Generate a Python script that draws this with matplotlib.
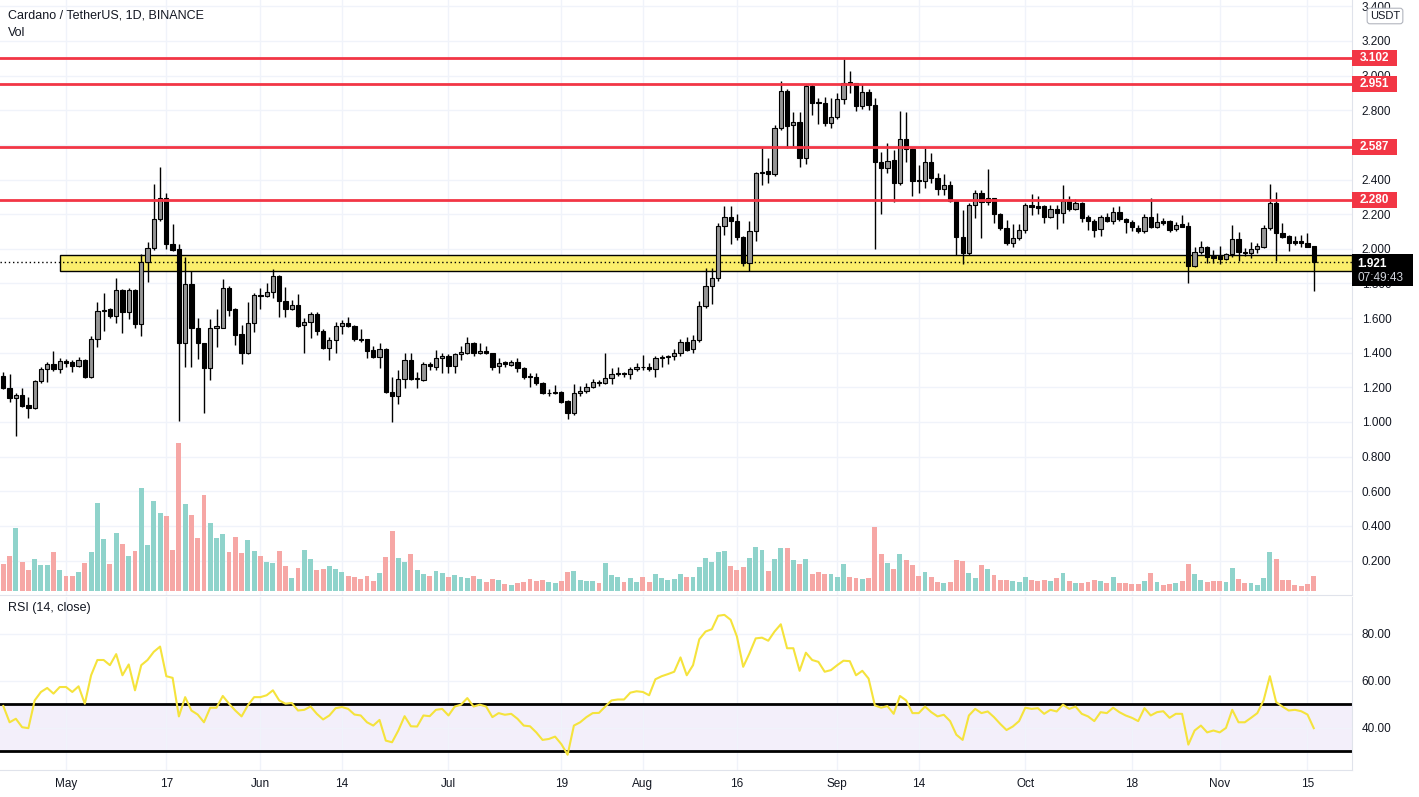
import numpy as np
import pandas as pd
import matplotlib.pyplot as plt
import matplotlib.transforms as mtransforms
from matplotlib.patches import Rectangle

plt.rcParams['font.family'] = ['Liberation Sans', 'DejaVu Sans']

# daily ADA/USDT candles, 21 Apr 2021 - 16 Nov 2021
dates = pd.date_range('2021-04-21', periods=210, freq='D')

opens = [
    1.266, 1.198, 1.140, 1.155, 1.098, 1.083, 1.237, 1.304, 1.335, 1.304,
    1.350, 1.346, 1.323, 1.358, 1.262, 1.477, 1.643, 1.651, 1.614, 1.762,
    1.637, 1.762, 1.564, 1.922, 2.003, 2.170, 2.292, 2.026, 1.997, 1.458,
    1.795, 1.545, 1.458, 1.310, 1.545, 1.545, 1.771, 1.652, 1.508, 1.396,
    1.569, 1.735, 1.729, 1.748, 1.843, 1.700, 1.650, 1.675, 1.560, 1.577,
    1.623, 1.527, 1.429, 1.473, 1.554, 1.569, 1.554, 1.477, 1.477, 1.415,
    1.377, 1.419, 1.171, 1.152, 1.248, 1.358, 1.248, 1.242, 1.332, 1.320,
    1.369, 1.381, 1.325, 1.390, 1.400, 1.454, 1.396, 1.410, 1.396, 1.323,
    1.344, 1.330, 1.344, 1.310, 1.262, 1.257, 1.223, 1.165, 1.168, 1.175,
    1.120, 1.050, 1.165, 1.180, 1.204, 1.229, 1.227, 1.252, 1.275, 1.280,
    1.278, 1.304, 1.319, 1.315, 1.304, 1.371, 1.373, 1.380, 1.396, 1.464,
    1.420, 1.473, 1.672, 1.787, 1.830, 2.132, 2.182, 2.160, 2.066, 1.916,
    2.103, 2.436, 2.447, 2.430, 2.696, 2.911, 2.713, 2.730, 2.522, 2.942,
    2.846, 2.840, 2.728, 2.759, 2.863, 2.961, 2.956, 2.825, 2.903, 2.830,
    2.503, 2.465, 2.513, 2.378, 2.634, 2.574, 2.397, 2.390, 2.499, 2.410,
    2.343, 2.366, 2.278, 2.070, 1.977, 2.251, 2.320, 2.268, 2.291, 2.199,
    2.122, 2.031, 2.064, 2.108, 2.251, 2.245, 2.245, 2.185, 2.230, 2.205,
    2.278, 2.230, 2.262, 2.185, 2.162, 2.112, 2.185, 2.162, 2.210, 2.172,
    2.157, 2.118, 2.105, 2.182, 2.128, 2.162, 2.160, 2.112, 2.143, 2.132,
    1.903, 1.980, 2.008, 1.958, 1.958, 1.941, 1.968, 2.055, 1.981, 1.974,
    1.997, 2.012, 2.118, 2.263, 2.093, 2.074, 2.047, 2.045, 2.035, 2.016,
]
highs = [
    1.291, 1.275, 1.165, 1.194, 1.142, 1.245, 1.320, 1.345, 1.410, 1.370,
    1.365, 1.358, 1.375, 1.365, 1.497, 1.695, 1.743, 1.660, 1.834, 1.770,
    1.775, 1.770, 1.968, 2.041, 2.374, 2.470, 2.320, 2.143, 2.026, 1.955,
    1.870, 1.600, 1.458, 1.593, 1.650, 1.825, 1.785, 1.660, 1.560, 1.694,
    1.743, 1.771, 1.800, 1.881, 1.850, 1.777, 1.704, 1.739, 1.598, 1.637,
    1.633, 1.535, 1.493, 1.579, 1.589, 1.608, 1.560, 1.535, 1.480, 1.438,
    1.454, 1.425, 1.261, 1.303, 1.396, 1.396, 1.290, 1.348, 1.348, 1.415,
    1.400, 1.390, 1.400, 1.438, 1.488, 1.460, 1.454, 1.438, 1.400, 1.367,
    1.352, 1.355, 1.367, 1.315, 1.285, 1.285, 1.228, 1.188, 1.213, 1.180,
    1.125, 1.219, 1.207, 1.223, 1.246, 1.240, 1.396, 1.310, 1.319, 1.290,
    1.319, 1.338, 1.386, 1.338, 1.381, 1.386, 1.386, 1.420, 1.479, 1.493,
    1.502, 1.699, 1.887, 1.891, 2.150, 2.247, 2.247, 2.199, 2.075, 2.160,
    2.445, 2.580, 2.522, 2.715, 2.969, 2.925, 2.788, 2.792, 2.950, 2.950,
    2.869, 2.875, 2.873, 2.898, 3.094, 3.027, 2.960, 2.950, 2.921, 2.869,
    2.557, 2.613, 2.570, 2.796, 2.792, 2.580, 2.484, 2.580, 2.551, 2.435,
    2.432, 2.390, 2.280, 2.224, 2.262, 2.339, 2.339, 2.459, 2.295, 2.205,
    2.166, 2.141, 2.141, 2.262, 2.316, 2.305, 2.250, 2.250, 2.250, 2.368,
    2.306, 2.290, 2.270, 2.195, 2.170, 2.195, 2.205, 2.239, 2.247, 2.180,
    2.165, 2.137, 2.201, 2.291, 2.209, 2.180, 2.165, 2.157, 2.195, 2.157,
    2.012, 2.045, 2.018, 1.993, 2.016, 1.974, 2.137, 2.095, 2.003, 2.041,
    2.032, 2.137, 2.374, 2.330, 2.147, 2.080, 2.074, 2.078, 2.093, 2.016,
]
lows = [
    1.190, 1.114, 0.919, 1.085, 1.021, 1.075, 1.223, 1.233, 1.295, 1.280,
    1.320, 1.290, 1.315, 1.255, 1.255, 1.435, 1.527, 1.600, 1.574, 1.516,
    1.595, 1.545, 1.498, 1.810, 1.995, 2.160, 2.000, 1.990, 1.008, 1.320,
    1.320, 1.365, 1.050, 1.245, 1.435, 1.540, 1.610, 1.444, 1.334, 1.390,
    1.520, 1.655, 1.720, 1.715, 1.608, 1.608, 1.645, 1.550, 1.400, 1.483,
    1.505, 1.420, 1.358, 1.400, 1.508, 1.550, 1.470, 1.463, 1.371, 1.370,
    1.310, 1.165, 1.001, 1.102, 1.198, 1.240, 1.198, 1.236, 1.300, 1.300,
    1.280, 1.280, 1.285, 1.358, 1.390, 1.380, 1.390, 1.392, 1.300, 1.285,
    1.320, 1.322, 1.290, 1.250, 1.200, 1.215, 1.160, 1.150, 1.160, 1.110,
    1.019, 1.040, 1.150, 1.170, 1.195, 1.210, 1.222, 1.217, 1.265, 1.257,
    1.246, 1.295, 1.300, 1.296, 1.261, 1.320, 1.334, 1.360, 1.380, 1.410,
    1.397, 1.460, 1.660, 1.680, 1.815, 2.080, 2.030, 2.051, 1.900, 1.874,
    2.047, 2.368, 2.378, 2.420, 2.686, 2.584, 2.594, 2.470, 2.490, 2.773,
    2.719, 2.709, 2.700, 2.750, 2.836, 2.898, 2.796, 2.810, 2.800, 1.999,
    2.199, 2.440, 2.268, 2.370, 2.499, 2.306, 2.320, 2.353, 2.378, 2.310,
    2.310, 2.270, 1.964, 1.912, 1.964, 2.176, 2.060, 2.250, 2.147, 2.110,
    2.020, 2.012, 2.050, 2.089, 2.195, 2.200, 2.147, 2.175, 2.112, 2.151,
    2.220, 2.225, 2.156, 2.108, 2.070, 2.074, 2.155, 2.143, 2.160, 2.089,
    2.103, 2.093, 2.089, 2.120, 2.120, 2.140, 2.095, 2.105, 2.125, 1.804,
    1.895, 1.970, 1.920, 1.916, 1.912, 1.935, 1.951, 1.931, 1.958, 1.945,
    1.974, 2.006, 2.110, 1.931, 2.060, 1.987, 2.022, 2.012, 2.008, 1.758,
]
closes = [
    1.198, 1.140, 1.155, 1.094, 1.083, 1.237, 1.304, 1.335, 1.304, 1.350,
    1.340, 1.323, 1.358, 1.262, 1.477, 1.643, 1.647, 1.614, 1.762, 1.637,
    1.762, 1.564, 1.922, 2.003, 2.170, 2.292, 2.026, 1.993, 1.458, 1.795,
    1.545, 1.458, 1.310, 1.545, 1.552, 1.771, 1.646, 1.502, 1.396, 1.569,
    1.733, 1.730, 1.748, 1.843, 1.700, 1.650, 1.675, 1.556, 1.577, 1.623,
    1.527, 1.429, 1.473, 1.554, 1.569, 1.554, 1.477, 1.473, 1.411, 1.377,
    1.419, 1.171, 1.152, 1.248, 1.358, 1.248, 1.250, 1.332, 1.326, 1.367,
    1.381, 1.325, 1.390, 1.402, 1.454, 1.396, 1.410, 1.396, 1.319, 1.342,
    1.333, 1.344, 1.310, 1.257, 1.261, 1.223, 1.165, 1.168, 1.175, 1.117,
    1.050, 1.165, 1.180, 1.204, 1.229, 1.226, 1.252, 1.275, 1.280, 1.278,
    1.304, 1.319, 1.315, 1.304, 1.371, 1.373, 1.380, 1.396, 1.464, 1.416,
    1.473, 1.672, 1.787, 1.830, 2.132, 2.182, 2.160, 2.066, 1.916, 2.103,
    2.436, 2.445, 2.430, 2.696, 2.911, 2.711, 2.732, 2.522, 2.942, 2.840,
    2.840, 2.725, 2.759, 2.863, 2.956, 2.952, 2.825, 2.903, 2.830, 2.503,
    2.465, 2.509, 2.378, 2.634, 2.574, 2.393, 2.390, 2.499, 2.410, 2.343,
    2.366, 2.278, 2.070, 1.977, 2.251, 2.320, 2.268, 2.291, 2.199, 2.122,
    2.031, 2.064, 2.108, 2.251, 2.239, 2.235, 2.185, 2.230, 2.205, 2.278,
    2.230, 2.262, 2.179, 2.162, 2.108, 2.185, 2.162, 2.210, 2.170, 2.153,
    2.124, 2.103, 2.182, 2.128, 2.153, 2.151, 2.109, 2.137, 2.128, 1.903,
    1.980, 2.008, 1.951, 1.949, 1.941, 1.968, 2.055, 1.980, 1.974, 1.997,
    2.016, 2.118, 2.263, 2.089, 2.066, 2.035, 2.035, 2.032, 2.012, 1.921,
]
# volume, millions of ADA (approx)
volume = [
    81, 105, 188, 88, 63, 96, 78, 78, 117, 63,
    45, 45, 57, 85, 117, 264, 156, 81, 174, 141,
    105, 120, 309, 138, 270, 234, 225, 123, 444, 261,
    228, 159, 288, 204, 159, 171, 117, 162, 114, 153,
    120, 105, 88, 84, 120, 75, 39, 69, 123, 96,
    63, 66, 75, 66, 57, 45, 42, 36, 45, 30,
    54, 102, 180, 99, 87, 111, 63, 51, 45, 60,
    54, 42, 48, 42, 39, 45, 36, 27, 36, 33,
    21, 18, 24, 27, 36, 30, 33, 27, 24, 30,
    57, 60, 33, 30, 30, 24, 84, 48, 42, 27,
    39, 27, 42, 27, 51, 39, 33, 36, 51, 42,
    42, 72, 99, 87, 117, 120, 75, 63, 72, 99,
    132, 123, 60, 96, 129, 129, 93, 81, 96, 51,
    57, 51, 51, 42, 81, 42, 39, 36, 39, 192,
    111, 84, 66, 111, 93, 78, 45, 57, 42, 27,
    24, 27, 93, 90, 54, 39, 78, 66, 48, 33,
    33, 30, 27, 42, 33, 30, 33, 30, 39, 54,
    30, 24, 24, 27, 33, 30, 24, 42, 24, 24,
    21, 21, 30, 54, 27, 18, 21, 24, 30, 81,
    51, 33, 27, 30, 30, 27, 69, 36, 24, 24,
    18, 39, 117, 96, 33, 33, 18, 15, 21, 45,
]
rsi = [
    49.3, 42.4, 43.9, 40.3, 39.9, 51.7, 55.3, 57.0, 54.6, 57.4,
    57.4, 55.3, 57.7, 50.3, 62.4, 68.9, 68.9, 66.7, 71.4, 62.4,
    67.0, 56.0, 66.7, 68.9, 72.4, 74.6, 62.0, 61.3, 44.9, 53.1,
    47.4, 45.7, 42.4, 48.6, 48.6, 53.6, 50.3, 47.4, 44.9, 49.6,
    53.1, 53.1, 53.9, 56.0, 51.7, 50.3, 50.6, 47.4, 47.7, 49.1,
    46.0, 43.6, 45.3, 48.4, 48.9, 48.1, 45.7, 45.3, 42.4, 41.0,
    43.4, 34.6, 33.9, 38.9, 45.0, 40.7, 40.6, 45.3, 45.0, 47.7,
    48.1, 45.3, 49.1, 49.9, 52.7, 49.1, 49.9, 49.1, 44.6, 46.3,
    45.6, 46.0, 43.9, 41.0, 40.7, 38.1, 34.9, 35.3, 36.3, 33.1,
    28.6, 41.0, 42.4, 44.6, 46.3, 46.4, 49.1, 51.7, 52.1, 52.1,
    55.0, 55.6, 55.3, 53.9, 60.7, 62.0, 62.9, 63.9, 70.0, 62.4,
    66.7, 77.7, 81.0, 82.0, 87.7, 88.1, 86.0, 78.9, 66.0, 71.7,
    78.1, 78.4, 77.1, 81.0, 84.1, 73.9, 73.9, 64.3, 72.0, 68.9,
    68.1, 63.9, 64.6, 66.7, 68.6, 68.4, 62.4, 64.3, 61.0, 49.6,
    48.6, 49.3, 46.0, 53.6, 51.7, 46.3, 46.3, 49.1, 46.7, 44.9,
    45.6, 42.9, 37.1, 34.9, 45.3, 48.1, 46.3, 47.0, 44.6, 41.7,
    39.1, 40.6, 42.9, 48.6, 48.1, 48.4, 46.0, 47.7, 47.0, 49.9,
    48.1, 49.1, 46.0, 44.9, 42.9, 46.7, 46.3, 48.6, 46.7, 45.3,
    44.3, 42.9, 48.4, 45.3, 46.7, 47.1, 44.3, 46.0, 46.0, 32.9,
    38.9, 41.0, 38.1, 38.9, 38.1, 40.0, 47.7, 42.4, 42.4, 44.3,
    46.3, 51.7, 62.0, 51.0, 49.1, 47.4, 47.7, 47.1, 45.7, 39.9,
]

levels = [3.102, 2.951, 2.587, 2.280]
zone_low, zone_high = 1.870, 1.962
zone_start = '2021-04-30'
tick_dates = ['2021-05-01', '2021-05-17', '2021-06-01', '2021-06-14', '2021-07-01',
              '2021-07-19', '2021-08-01', '2021-08-16', '2021-09-01', '2021-09-14',
              '2021-10-01', '2021-10-18', '2021-11-01', '2021-11-15']
tick_labels = ['May', '17', 'Jun', '14', 'Jul', '19', 'Aug', '16', 'Sep', '14',
               'Oct', '18', 'Nov', '15']
countdown = '07:49:43'

W, H = 1419, 797
TXT = '#131722'
GRID = '#f0f3fa'
BORDER = '#e0e3eb'
RED = '#f23645'

fig = plt.figure(figsize=(W / 100, H / 100), dpi=100)
ax = fig.add_axes([0, 1 - 595 / H, 1352 / W, 595 / H])
ax_rsi = fig.add_axes([0, 1 - 770 / H, 1352 / W, 173 / H])

x = np.arange(len(dates))
o = np.array(opens)
c = np.array(closes)
hi = np.array(highs)
lo = np.array(lows)
up = c >= o
tick_pos = [dates.get_loc(pd.Timestamp(d)) for d in tick_dates]

xmin, xmax = -0.53, 215.1
ymin, ymax = 0.001, 3.4365
ppx = (ymax - ymin) / 595  # price per pixel

# grid
ax.set_xlim(xmin, xmax)
ax.set_ylim(ymin, ymax)
ax.set_xticks(tick_pos)
ax.set_yticks(np.arange(0.2, 3.41, 0.2))
ax.grid(True, color=GRID, lw=1)
ax.set_axisbelow(True)

# support zone + last price line
zx = dates.get_loc(pd.Timestamp(zone_start))
ax.add_patch(Rectangle((zx, zone_low), xmax - zx, zone_high - zone_low,
                       fc='#fbee6c', ec='black', lw=1, zorder=2))
ax.axhline(c[-1], color='black', lw=1, ls=(0, (1, 2)), zorder=2.5)

for lv in levels:
    ax.axhline(lv, color=RED, lw=2, zorder=5)

# candles
ax.vlines(x, lo, hi, color='black', lw=1, zorder=3)
body = np.maximum(np.abs(c - o), 0.004)
ax.bar(x, body, bottom=np.minimum(o, c), width=0.68,
       color=np.where(up, '#969696', '#000000'), edgecolor='black', lw=0.8, zorder=4)

# volume overlay
axv = ax.twinx()
vmax = max(volume)
s = 148 / vmax
axv.bar(x, volume, width=0.78, color=np.where(up, '#8fd3cb', '#f6a7a5'))
axv.set_ylim(-4 / s, 591 / s)
axv.set_xlim(xmin, xmax)
axv.axis('off')

# price axis
ax.yaxis.tick_right()
ax.yaxis.set_major_formatter(plt.FuncFormatter(lambda v, p: f'{v:.3f}'))
ax.tick_params(axis='y', length=0, pad=7, labelsize=8.5, labelcolor=TXT)
ax.tick_params(axis='x', length=0, labelbottom=False)
for sp in ['top', 'left']:
    ax.spines[sp].set_visible(False)
ax.spines['right'].set_color(BORDER)
ax.spines['bottom'].set_color(BORDER)

trans = mtransforms.blended_transform_factory(ax.transAxes, ax.transData)
bw = 45 / 1352
for lv in levels:
    ax.add_patch(Rectangle((1.0, lv - 8 * ppx), bw, 16 * ppx, transform=trans,
                           fc=RED, ec='none', clip_on=False, zorder=6))
    ax.text(1.0 + bw / 2, lv, f'{lv:.3f}', transform=trans, ha='center', va='center',
            color='white', fontsize=8.5, fontweight='bold', clip_on=False, zorder=7)

ax.add_patch(Rectangle((1.0, c[-1] - 23.5 * ppx), 61 / 1352, 32 * ppx, transform=trans,
                       fc='black', ec='none', clip_on=False, zorder=6))
ax.text(1.0 + 5 / 1352, c[-1] - 1.5 * ppx, f'{c[-1]:.3f}', transform=trans,
        ha='left', va='center', color='white', fontsize=8.5, fontweight='bold',
        clip_on=False, zorder=7)
ax.text(1.0 + 5 / 1352, c[-1] - 15.5 * ppx, countdown, transform=trans,
        ha='left', va='center', color='#d1d4dc', fontsize=8.5, clip_on=False, zorder=7)

# RSI pane
ax_rsi.set_xlim(xmin, xmax)
ax_rsi.set_ylim(22.1, 95.7)
ax_rsi.axhspan(30, 50, color='#f3effa', zorder=0.5)
ax_rsi.set_xticks(tick_pos)
ax_rsi.set_xticklabels(tick_labels)
ax_rsi.set_yticks([40, 60, 80])
ax_rsi.grid(True, color=GRID, lw=1)
ax_rsi.set_axisbelow(True)
ax_rsi.axhline(50, color='black', lw=2, zorder=2)
ax_rsi.axhline(30, color='black', lw=2, zorder=2)
ax_rsi.plot(x, rsi, color='#f5e33c', lw=1.5, zorder=3)
ax_rsi.yaxis.tick_right()
ax_rsi.yaxis.set_major_formatter(plt.FuncFormatter(lambda v, p: f'{v:.2f}'))
ax_rsi.tick_params(axis='y', length=0, pad=7, labelsize=8.5, labelcolor=TXT)
ax_rsi.tick_params(axis='x', length=0, pad=6, labelsize=8.5, labelcolor=TXT)
for sp in ['top', 'left']:
    ax_rsi.spines[sp].set_visible(False)
ax_rsi.spines['right'].set_color(BORDER)
ax_rsi.spines['bottom'].set_color(BORDER)

# titles
fig.text(8 / W, 1 - 16 / H, 'Cardano / TetherUS, 1D, BINANCE', fontsize=9, color=TXT, va='center')
fig.text(8 / W, 1 - 33 / H, 'Vol', fontsize=9, color=TXT, va='center')
fig.text(8 / W, 1 - 608 / H, 'RSI (14, close)', fontsize=9, color=TXT, va='center')
fig.text(1385 / W, 1 - 16 / H, 'USDT', fontsize=8, color=TXT, ha='center', va='center',
         bbox=dict(boxstyle='round,pad=0.25', fc='white', ec='#b2b5be', lw=0.8), zorder=10)

fig.savefig('out.png', dpi=100, facecolor='white')
